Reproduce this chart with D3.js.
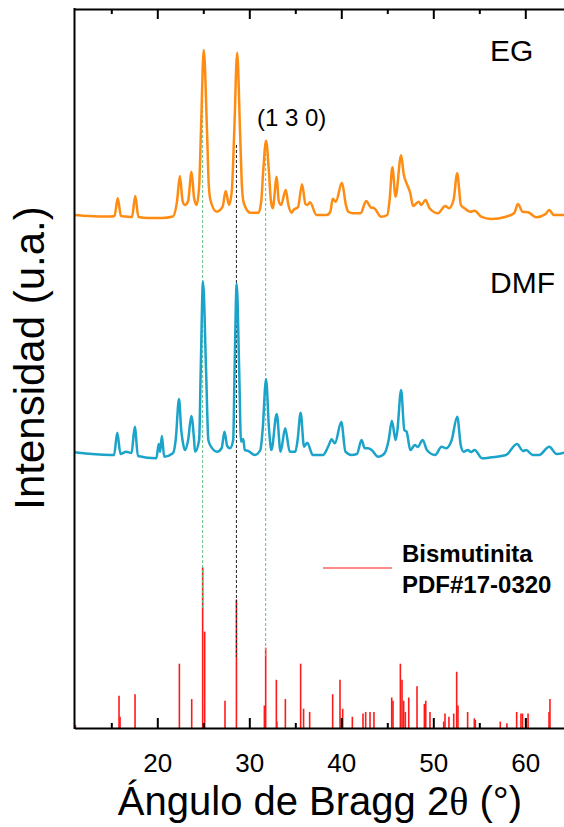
<!DOCTYPE html>
<html>
<head>
<meta charset="utf-8">
<script src="https://cdn.jsdelivr.net/npm/d3@7"></script>
<style>
  body { margin: 0; background: #fff; }
  svg { display: block; font-family: Arial, "Liberation Sans", sans-serif; }
  .axis path, .axis line { stroke: #000; stroke-width: 2; }
  .axis text { font-size: 26px; fill: #000; font-family: Arial, "Liberation Sans", sans-serif; }
</style>
</head>
<body>
<script>
// XRD patterns, 2theta in degrees, intensity in arbitrary counts (relative to each pattern's baseline)
const egTheta = [11.0, 12.5, 14.9, 15.35, 15.7, 16.05, 16.6, 17.25, 17.6, 17.95, 19.0, 20.5, 21.7, 22.15, 22.45, 22.75, 23.0, 23.35, 23.72, 24.0, 24.28, 24.55, 24.75, 25.05, 25.4, 25.6, 25.8, 26.45, 27.1, 27.43, 27.8, 28.1, 28.37, 28.68, 28.99, 29.2, 29.4, 30.1, 31.0, 31.3, 31.52, 31.82, 32.12, 32.35, 32.55, 32.98, 33.2, 33.45, 33.96, 34.25, 34.6, 34.8, 35.3, 35.73, 36.1, 36.3, 36.6, 37.3, 38.4, 38.8, 39.07, 39.4, 40.07, 40.5, 40.75, 41.3, 42.1, 42.7, 43.2, 43.6, 44.3, 45.0, 45.25, 45.55, 45.9, 46.5, 46.8, 47.1, 47.5, 47.8, 48.4, 48.7, 49.15, 49.6, 50.5, 51.3, 51.7, 52.2, 52.6, 53.0, 53.4, 54.0, 54.5, 55.2, 56.3, 57.9, 58.8, 59.2, 59.7, 60.3, 61.2, 62.2, 62.6, 63.1, 64.6];
const egInt = [10, 0, -5, 0, 177, 0, -5, -10, 200, -10, -20, -20, -5, 150, 400, 150, 110, 150, 443, 180, 110, 300, 860, 1660, 860, 300, 150, 43, 93, 250, 110, 250, 860, 1633, 860, 300, 130, 33, 33, 150, 460, 753, 460, 150, 77, 393, 150, 110, 260, 110, 33, 60, 90, 317, 120, 110, 137, 10, 10, 40, 173, 143, 333, 110, 43, 27, 27, 150, 87, 77, -7, 10, 160, 487, 193, 607, 410, 327, 227, 100, 143, 110, 160, 77, 27, 100, 77, 160, 427, 110, 77, 43, 53, -7, -30, -7, 30, 120, 43, 37, -13, 20, 60, 10, 10];

const dmfTheta = [11.0, 14.9, 15.3, 15.65, 16.0, 16.6, 17.2, 17.55, 17.9, 19.9, 20.15, 20.3, 20.5, 20.75, 21.7, 22.0, 22.36, 22.6, 22.75, 23.0, 23.35, 23.7, 24.0, 24.1, 24.55, 24.72, 24.97, 25.3, 25.55, 25.8, 26.5, 27.0, 27.3, 27.6, 27.9, 28.25, 28.4, 28.63, 28.9, 29.1, 29.35, 29.5, 29.83, 30.6, 31.2, 31.45, 31.82, 32.15, 32.4, 32.98, 33.4, 33.9, 34.4, 35.0, 35.25, 35.58, 35.95, 36.3, 36.9, 38.0, 38.6, 38.96, 39.3, 40.0, 40.45, 41.1, 41.7, 42.2, 42.55, 42.9, 43.3, 44.0, 44.7, 45.15, 45.5, 45.9, 46.1, 46.5, 46.85, 47.1, 47.5, 48.0, 48.3, 48.85, 49.3, 50.2, 50.9, 51.4, 52.0, 52.6, 53.0, 53.3, 53.75, 54.1, 54.5, 55.3, 56.3, 57.9, 59.1, 59.75, 60.1, 60.8, 61.5, 62.6, 63.4, 64.6];
const dmfInt = [27, 0, 0, 223, 10, 33, 20, 283, -10, -33, 110, 33, 190, -17, 17, 150, 560, 250, 143, 50, 150, 390, 150, 33, 150, 850, 1733, 850, 150, 90, 33, 70, 233, 90, 67, 150, 850, 1710, 850, 133, 160, 50, 43, 0, 50, 250, 757, 250, 50, 410, 33, 267, 33, 33, 150, 423, 83, 123, 0, 0, 90, 157, 117, 330, 33, 0, 10, 150, 67, 67, 50, -17, 17, 150, 343, 150, 250, 650, 250, 233, 50, 100, 80, 150, 50, 0, 83, 67, 150, 383, 90, 33, 50, 30, 50, -33, -23, 0, 110, 40, 50, 0, 0, 83, 10, 33];

// Bismutinite reference PDF#17-0320 (relative intensity, %)
const refTheta = [11.1, 15.84, 15.95, 17.58, 22.4, 23.74, 24.93, 25.15, 27.36, 28.6, 31.64, 31.78, 32.94, 33.0, 33.92, 35.58, 35.9, 36.56, 39.06, 39.86, 40.15, 41.2, 42.36, 42.65, 43.12, 43.55, 45.48, 45.62, 46.42, 46.6, 46.78, 46.96, 47.33, 48.23, 49.03, 49.18, 49.64, 51.13, 51.27, 51.7, 52.22, 52.54, 52.68, 53.73, 54.46, 54.57, 57.28, 58.0, 59.06, 59.53, 59.7, 60.08, 60.3, 62.58, 62.68];
const refRel = [2, 20, 7, 21, 40, 18, 100, 60, 17, 80, 14, 50, 30, 4, 18, 40, 12, 10, 21, 30, 12, 7, 9, 10, 10, 10, 19, 17, 40, 30, 17, 10, 19, 26, 15, 17, 10, 4, 9, 7, 9, 35, 14, 10, 6, 5, 4, 3, 10, 9, 9, 6, 9, 10, 18];

// guide lines through main reflections: theta, top and bottom (counts)
const guideTheta = [24.93, 28.6, 31.78];
const guideTop = [6280, 5830, 5800];
const guideBottom = [1180, 710, 700];
const guideColor = ["#5fbf80", "#222", "#5fbf80"];

const majorTicks = [20, 30, 40, 50, 60];
const minorTicks = [15, 25, 35, 45, 55, 65];

const EG_OFFSET = 5120, DMF_OFFSET = 2730, REF_SCALE = 16.07;

const W = 564, H = 827;
const svg = d3.select("body").append("svg").attr("width", W).attr("height", H);

const x = d3.scaleLinear().domain([11, 66]).range([74.5, 580.5]);
const y = d3.scaleLinear().domain([0, 7190]).range([728, 9]);

// reference sticks
svg.append("g").selectAll("line")
    .data(refTheta.map((t, i) => [t, refRel[i]]))
    .join("line")
    .attr("x1", d => x(d[0])).attr("x2", d => x(d[0]))
    .attr("y1", y(0)).attr("y2", d => y(d[1] * REF_SCALE))
    .attr("stroke", "#ff1a1a").attr("stroke-width", 1.6);

// dashed guides
svg.append("g").selectAll("line")
    .data(guideTheta.map((t, i) => ({t, top: guideTop[i], bot: guideBottom[i], c: guideColor[i]})))
    .join("line")
    .attr("x1", d => x(d.t)).attr("x2", d => x(d.t))
    .attr("y1", d => y(d.top)).attr("y2", d => y(d.bot))
    .attr("stroke", d => d.c).attr("stroke-width", 1)
    .attr("stroke-dasharray", "3,2");

const line = (offset) => d3.line()
    .x(d => x(d[0]))
    .y(d => y(d[1] + offset))
    .curve(d3.curveMonotoneX);

svg.append("path")
    .datum(dmfTheta.map((t, i) => [t, dmfInt[i]]))
    .attr("d", line(DMF_OFFSET))
    .attr("fill", "none").attr("stroke", "#1ba3c9").attr("stroke-width", 2.5)
    .attr("stroke-linejoin", "round");

svg.append("path")
    .datum(egTheta.map((t, i) => [t, egInt[i]]))
    .attr("d", line(EG_OFFSET))
    .attr("fill", "none").attr("stroke", "#ff8c12").attr("stroke-width", 2.5)
    .attr("stroke-linejoin", "round");

// axes
const xAxisBottom = svg.append("g").attr("class", "axis").attr("transform", `translate(0,${y(0)})`);
xAxisBottom.call(d3.axisBottom(x).tickValues(majorTicks).tickSize(-10).tickSizeOuter(0).tickPadding(26));
xAxisBottom.append("g").call(d3.axisBottom(x).tickValues(minorTicks).tickSize(-5).tickSizeOuter(0).tickFormat(""))
    .select(".domain").remove();

const xAxisTop = svg.append("g").attr("class", "axis").attr("transform", `translate(0,${y(7190)})`);
xAxisTop.call(d3.axisTop(x).tickValues(majorTicks).tickSize(-10).tickSizeOuter(0).tickFormat(""));
xAxisTop.append("g").call(d3.axisTop(x).tickValues(minorTicks).tickSize(-5).tickSizeOuter(0).tickFormat(""))
    .select(".domain").remove();

svg.append("line")
    .attr("x1", x(11)).attr("x2", x(11))
    .attr("y1", y(7190) - 1).attr("y2", y(0) + 1)
    .attr("stroke", "#000").attr("stroke-width", 2);

// titles
svg.append("text")
    .attr("transform", `translate(44,${358}) rotate(-90)`)
    .attr("text-anchor", "middle")
    .attr("font-size", 42)
    .text("Intensidad (u.a.)");

const xt = svg.append("text")
    .attr("x", 320).attr("y", 815)
    .attr("text-anchor", "middle")
    .attr("font-size", 40);
xt.append("tspan").text("Ángulo de Bragg 2");
xt.append("tspan").attr("font-family", "'Liberation Serif', 'Times New Roman', serif").text("θ");
xt.append("tspan").text(" (°)");

// sample labels
svg.append("text").attr("x", 490).attr("y", 61).attr("font-size", 30).text("EG");
svg.append("text").attr("x", 490).attr("y", 293).attr("font-size", 30).text("DMF");
svg.append("text").attr("x", 257).attr("y", 126).attr("font-size", 24).text("(1 3 0)");

// legend
svg.append("line")
    .attr("x1", 323).attr("x2", 392).attr("y1", 568).attr("y2", 568)
    .attr("stroke", "#ff8a8a").attr("stroke-width", 2);
svg.append("text").attr("x", 402).attr("y", 562).attr("font-size", 24).attr("font-weight", "bold").text("Bismutinita");
svg.append("text").attr("x", 402).attr("y", 593).attr("font-size", 24).attr("font-weight", "bold").text("PDF#17-0320");
</script>
</body>
</html>
